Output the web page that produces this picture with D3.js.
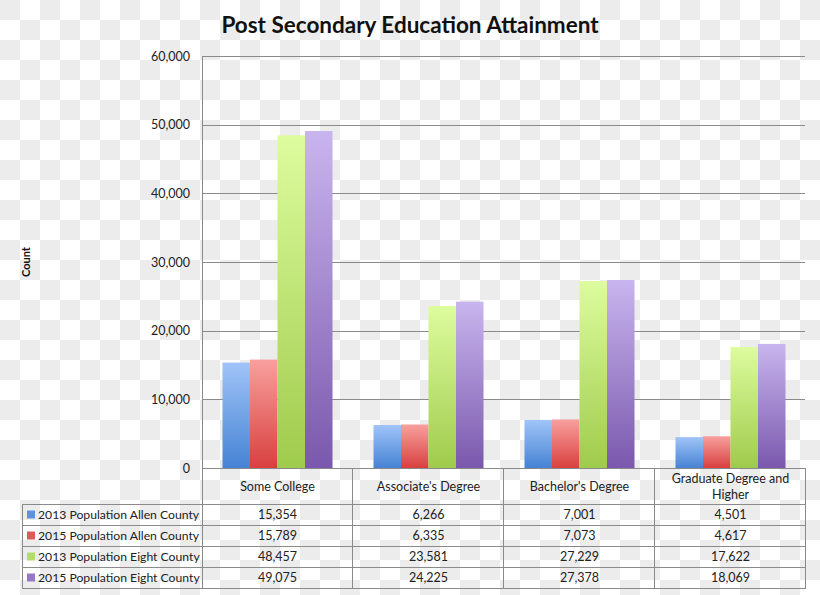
<!DOCTYPE html>
<html>
<head>
<meta charset="utf-8">
<script src="https://cdn.jsdelivr.net/npm/d3@7"></script>
<style>
  html, body { margin: 0; padding: 0; }
  body { width: 820px; height: 595px; overflow: hidden; }
  svg { display: block; }
</style>
</head>
<body>
<div id="chart"></div>
<script>
const title = "Post Secondary Education Attainment";
const yAxisTitle = "Count";
const categories = ["Some College", "Associate's Degree", "Bachelor's Degree", "Graduate Degree and Higher"];
const categoryLines = [["Some College"], ["Associate's Degree"], ["Bachelor's Degree"], ["Graduate Degree and", "Higher"]];
const seriesNames = ["2013 Population Allen County", "2015 Population Allen County", "2013 Population Eight County", "2015 Population Eight County"];
const allen2013 = [15354, 6266, 7001, 4501];
const allen2015 = [15789, 6335, 7073, 4617];
const eight2013 = [48457, 23581, 27229, 17622];
const eight2015 = [49075, 24225, 27378, 18069];
const seriesValues = [allen2013, allen2015, eight2013, eight2015];
const yTicks = [0, 10000, 20000, 30000, 40000, 50000, 60000];

const colorsTop = ["#a0c4f8", "#f8a09e", "#ddfc9e", "#c9b5ee"];
const colorsBottom = ["#4683d4", "#d8403f", "#9fcb4c", "#7a58ad"];
const swatch = ["#5b93dc", "#e05a5a", "#b4dc6c", "#9579c8"];

(function () {
const W = 820, H = 595;
const plotLeft = 202, plotRight = 806, plotTop = 56, base = 468;
const tableLeft = 22, headerBottom = 504, rowH = 21;
const tableBottom = headerBottom + rowH * 4;

const svg = d3.select("#chart").append("svg").attr("width", W).attr("height", H);
const defs = svg.append("defs");

// checkerboard background
const pat = defs.append("pattern").attr("id", "checker").attr("width", 40).attr("height", 40)
  .attr("patternUnits", "userSpaceOnUse");
pat.append("rect").attr("width", 40).attr("height", 40).attr("fill", "#ffffff");
pat.append("rect").attr("width", 20).attr("height", 20).attr("fill", "#ececec");
pat.append("rect").attr("x", 20).attr("y", 20).attr("width", 20).attr("height", 20).attr("fill", "#ececec");
svg.append("rect").attr("width", W).attr("height", H).attr("fill", "url(#checker)");

seriesNames.forEach((s, i) => {
  const g = defs.append("linearGradient").attr("id", "grad" + i)
    .attr("x1", 0).attr("y1", 0).attr("x2", 0).attr("y2", 1);
  g.append("stop").attr("offset", "0%").attr("stop-color", colorsTop[i]);
  g.append("stop").attr("offset", "100%").attr("stop-color", colorsBottom[i]);
});

const font = "Lato, 'Open Sans', sans-serif";
const gridColor = "#8a8a8a";

const y = d3.scaleLinear().domain([0, 60000]).range([base, plotTop]);
const x = d3.scaleBand().domain(categories).range([plotLeft, plotRight]).padding(0);
const xs = d3.scaleBand().domain(seriesNames).range([0, x.bandwidth()]).paddingInner(0).paddingOuter(0.745);

// title
svg.append("text").attr("x", 410).attr("y", 33).attr("text-anchor", "middle")
  .attr("font-family", font).attr("font-weight", "bold").attr("font-size", 22.5)
  .attr("fill", "#111").text(title);

// y axis title
svg.append("text").attr("transform", "translate(30,262) rotate(-90)")
  .attr("text-anchor", "middle").attr("font-family", font).attr("font-weight", "bold")
  .attr("font-size", 11).attr("fill", "#111").text(yAxisTitle);

// gridlines
svg.append("g").selectAll("line").data(yTicks.filter(d => d > 0)).join("line")
  .attr("x1", plotLeft).attr("x2", plotRight - 1)
  .attr("y1", d => Math.round(y(d)) + 0.5).attr("y2", d => Math.round(y(d)) + 0.5)
  .attr("stroke", gridColor).attr("stroke-width", 1);

// y axis via d3
const yAxis = d3.axisLeft(y).tickValues(yTicks).tickFormat(d3.format(",")).tickSize(0).tickPadding(12);
const yg = svg.append("g").attr("transform", `translate(${plotLeft},0)`).call(yAxis);
yg.select(".domain").remove();
yg.selectAll("text").attr("font-family", font).attr("font-size", 12.5).attr("fill", "#222");

// bars
const groups = svg.append("g").selectAll("g").data(categories).join("g")
  .attr("transform", d => `translate(${x(d)},0)`);
groups.selectAll("rect").data((c, ci) => seriesNames.map((s, si) => ({ s, si, v: seriesValues[si][ci] })))
  .join("rect")
  .attr("x", d => xs(d.s)).attr("width", xs.bandwidth())
  .attr("y", d => y(d.v)).attr("height", d => base - y(d.v))
  .attr("fill", d => `url(#grad${d.si})`);

// table lines
const tl = svg.append("g").attr("stroke", gridColor).attr("stroke-width", 1).attr("fill", "none");
tl.append("line").attr("x1", plotLeft).attr("x2", plotRight).attr("y1", base + 0.5).attr("y2", base + 0.5);
tl.append("line").attr("x1", plotLeft + 0.5).attr("x2", plotLeft + 0.5).attr("y1", plotTop).attr("y2", tableBottom);
const seps = categories.map(c => x(c) + x.bandwidth());
tl.selectAll("line.sep").data(seps).join("line").attr("class", "sep")
  .attr("x1", d => Math.round(d) - 0.5).attr("x2", d => Math.round(d) - 0.5)
  .attr("y1", base).attr("y2", tableBottom);
const rowLines = d3.range(5).map(i => headerBottom + i * rowH);
tl.selectAll("line.row").data(rowLines).join("line").attr("class", "row")
  .attr("x1", tableLeft).attr("x2", plotRight)
  .attr("y1", d => d + 0.5).attr("y2", d => d + 0.5);
tl.append("line").attr("x1", tableLeft + 0.5).attr("x2", tableLeft + 0.5).attr("y1", headerBottom).attr("y2", tableBottom);

// header labels
const hdr = svg.append("g");
categories.forEach((c, ci) => {
  const lines = categoryLines[ci];
  const cx = x(c) + x.bandwidth() / 2;
  const cy = (base + headerBottom) / 2;
  const lh = 16;
  lines.forEach((ln, li) => {
    hdr.append("text").attr("x", cx).attr("y", cy + (li - (lines.length - 1) / 2) * lh + 4.5)
      .attr("text-anchor", "middle").attr("font-family", font).attr("font-size", 12.5)
      .attr("fill", "#222").text(ln);
  });
});

// legend rows
seriesNames.forEach((s, si) => {
  const ry = headerBottom + si * rowH + rowH / 2;
  svg.append("rect").attr("x", 27).attr("y", ry - 4).attr("width", 8).attr("height", 8).attr("fill", swatch[si]);
  svg.append("text").attr("x", 38).attr("y", ry + 4.5).attr("font-family", font).attr("font-size", 12.2)
    .attr("fill", "#222").text(s);
  categories.forEach((c, ci) => {
    svg.append("text").attr("x", x(c) + x.bandwidth() / 2).attr("y", ry + 4.5)
      .attr("text-anchor", "middle").attr("font-family", font).attr("font-size", 12.5)
      .attr("fill", "#222").text(d3.format(",")(seriesValues[si][ci]));
  });
});
})();
</script>
</body>
</html>
